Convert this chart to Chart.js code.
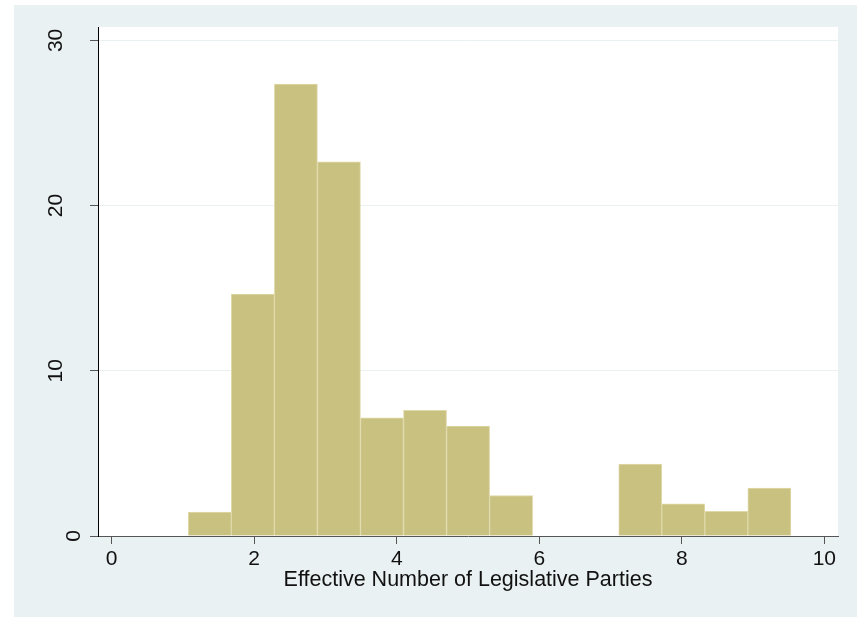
<!DOCTYPE html>
<html>
<head>
<meta charset="utf-8">
<script src="https://cdn.jsdelivr.net/npm/chart.js@4/dist/chart.umd.min.js"></script>
<style>
  html, body { margin: 0; padding: 0; background: #ffffff; }
  #wrap { width: 857px; height: 618px; position: relative; }
</style>
</head>
<body>
<div id="wrap"><canvas id="c" width="857" height="618"></canvas></div>
<script>
// Histogram bins (midpoints, bin width 0.604) and percent of observations
const binCenters = [1.377, 1.981, 2.585, 3.189, 3.793, 4.397, 5.001, 5.605, 6.209, 6.813, 7.417, 8.021, 8.625, 9.229];
const percents   = [1.45, 14.65, 27.35, 22.65, 7.15, 7.6, 6.65, 2.45, 0, 0, 4.35, 1.95, 1.5, 2.9];
const xTicks = [0, 2, 4, 6, 8, 10];
const yTicks = [0, 10, 20, 30];
const xTitle = 'Effective Number of Legislative Parties';

const FONT = "'Liberation Sans', Arial, sans-serif";
const BG = '#EAF1F3';

// graph region + white plot region
const backdrop = {
  id: 'backdrop',
  beforeDraw(chart) {
    const { ctx, chartArea: a } = chart;
    ctx.save();
    ctx.fillStyle = '#ffffff';
    ctx.fillRect(0, 0, chart.width, chart.height);
    ctx.fillStyle = BG;
    ctx.fillRect(14, 5, chart.width - 14, chart.height - 6);
    ctx.fillStyle = '#ffffff';
    ctx.fillRect(a.left, a.top, a.right - a.left, a.bottom - a.top);
    ctx.restore();
  }
};

// vertical (rotated) labels for the y axis
const yLabels = {
  id: 'yLabels',
  afterDraw(chart) {
    const { ctx } = chart;
    const s = chart.scales.y;
    ctx.save();
    ctx.font = '21px ' + FONT;
    ctx.fillStyle = '#111111';
    ctx.textAlign = 'center';
    ctx.textBaseline = 'middle';
    yTicks.forEach(v => {
      const label = String(v);
      const w = ctx.measureText(label).width;
      const y = s.getPixelForValue(v);
      const cx = s.right - 6.5 - 1.5 * w;
      ctx.save();
      ctx.translate(cx, y);
      ctx.rotate(-Math.PI / 2);
      ctx.fillText(label, 0, 0);
      ctx.restore();
    });
    ctx.restore();
  }
};

new Chart(document.getElementById('c'), {
  type: 'bar',
  data: {
    datasets: [{
      data: binCenters.map((x, i) => ({ x: x, y: percents[i] })),
      backgroundColor: '#C9C180',
      borderColor: '#DFD9A9',
      borderWidth: { top: 1, left: 1, right: 1, bottom: 0 },
      borderSkipped: false,
      barPercentage: 1,
      categoryPercentage: 1,
      grouped: false
    }]
  },
  options: {
    responsive: false,
    animation: false,
    devicePixelRatio: 1,
    layout: { padding: { top: 27, right: 19, left: 0, bottom: 0 } },
    plugins: { legend: { display: false }, tooltip: { enabled: false } },
    scales: {
      x: {
        type: 'linear',
        offset: false,
        min: -0.192,
        max: 10.192,
        afterBuildTicks: s => { s.ticks = xTicks.map(v => ({ value: v })); },
        afterFit: s => { s.height = 82; },
        grid: { offset: false, drawOnChartArea: false, drawTicks: true, tickLength: 8, tickColor: '#555555', color: '#555555' },
        border: { display: true, color: '#555555', width: 1 },
        ticks: {
          font: { family: FONT, size: 21 },
          color: '#111111',
          padding: 3,
          maxRotation: 0,
          autoSkip: false,
          callback: v => String(v)
        },
        title: {
          display: true,
          text: xTitle,
          color: '#111111',
          font: { family: FONT, size: 21.5 },
          padding: { top: 0, bottom: 25 }
        }
      },
      y: {
        type: 'linear',
        min: 0,
        max: 30.81,
        afterBuildTicks: s => { s.ticks = yTicks.map(v => ({ value: v })); },
        afterFit: s => { s.width = 98; },
        ticks: { display: false },
        grid: {
          color: c => (c.tick && c.tick.value === 0) ? 'rgba(0,0,0,0)' : BG,
          lineWidth: 1,
          drawTicks: true,
          tickLength: 8,
          tickColor: '#555555'
        },
        border: { display: true, color: '#000000', width: 1 }
      }
    }
  },
  plugins: [backdrop, yLabels]
});
</script>
</body>
</html>
